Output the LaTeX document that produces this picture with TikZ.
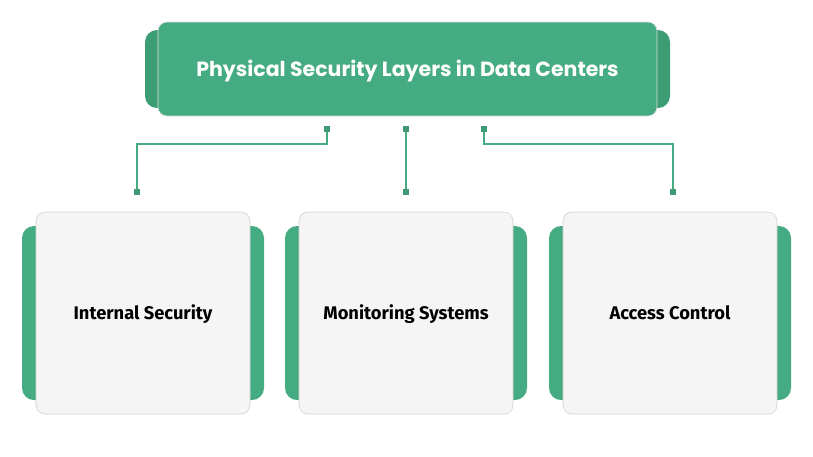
\documentclass[tikz,border=0pt]{standalone}
\usepackage{fontspec}
\setsansfont{Fira Sans}
\newfontfamily\headfont{Poppins}
\usetikzlibrary{positioning,calc}
\definecolor{jade}{HTML}{45AB82}
\definecolor{jadedark}{HTML}{3C9C73}
\definecolor{paper}{HTML}{F5F5F5}

\begin{document}
\begin{tikzpicture}[x=1pt,y=-1pt,font=\sffamily,
  tab/.style={fill=jadedark,rounded corners=12pt,inner sep=0pt},
  head/.style={fill=jade,rounded corners=9pt,draw=black!12,line width=0.6pt,
               text=white,inner sep=0pt,minimum width=499pt,minimum height=94pt,
               text height=14.4pt,text depth=0pt,
               font=\headfont\fontsize{20.5}{24}\selectfont\bfseries},
  card/.style={fill=paper,rounded corners=9pt,draw=black!18,line width=0.6pt,
               inner sep=0pt,minimum width=214pt,minimum height=202pt,
               text height=12.6pt,text depth=0pt,
               font=\sffamily\fontsize{18.3}{22}\selectfont\bfseries},
  cardtab/.style={tab,fill=jade,minimum width=242pt,minimum height=174pt},
  dot/.style={fill=jade!90!black,inner sep=0pt,minimum size=6pt},
  link/.style={draw=jade,line width=1.4pt}]
  \useasboundingbox (0,0) rectangle (813,456);

  % title
  \node[tab,minimum width=525pt,minimum height=78pt] (headtab) at (407.5,69) {};
  \node[head] (title) at (407.5,69) {Physical Security Layers in Data Centers};

  % cards
  \node[cardtab] (tab1) at (143,313) {};
  \node[cardtab] (tab2) at (406,313) {};
  \node[cardtab] (tab3) at (670,313) {};
  \node[card] (internal) at (143,313) {Internal Security};
  \node[card] (monitor) at (406,313) {Monitoring Systems};
  \node[card] (access) at (670,313) {Access Control};

  % connectors
  \coordinate (k1) at (327,144);
  \coordinate (k3) at (484,144);
  \node[dot] (t1) at (327,129) {};
  \node[dot] (t2) at (406,129) {};
  \node[dot] (t3) at (484,129) {};
  \node[dot] (b1) at (137,192) {};
  \node[dot] (b2) at (406,192) {};
  \node[dot] (b3) at (673,192) {};
  \draw[link] (t1) -- (k1) -| (b1);
  \draw[link] (t2) -- (b2);
  \draw[link] (t3) -- (k3) -| (b3);
\end{tikzpicture}
\end{document}
